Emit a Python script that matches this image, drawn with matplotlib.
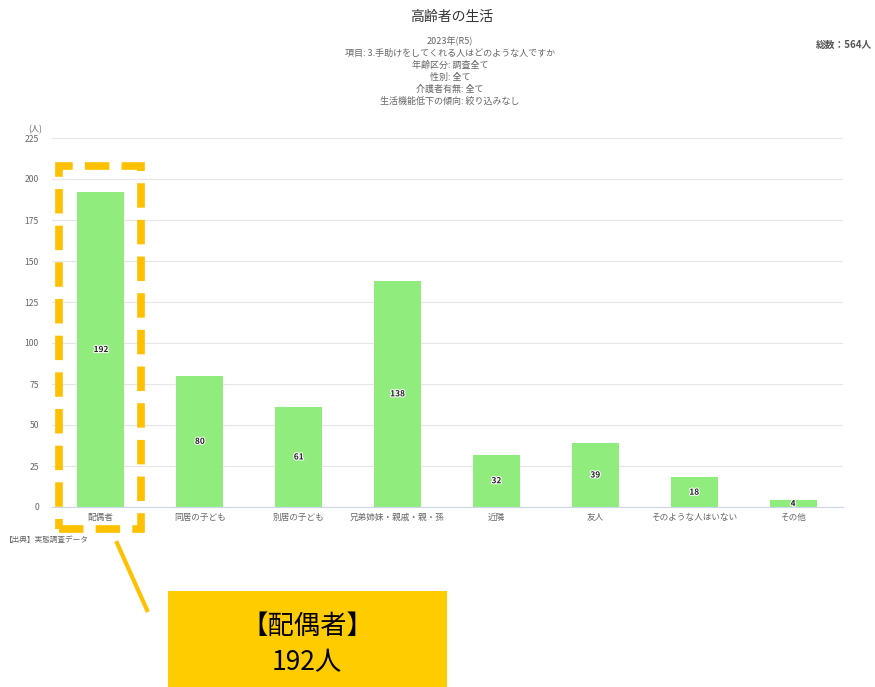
import matplotlib.pyplot as plt
from matplotlib.patches import Rectangle
from matplotlib.lines import Line2D
import matplotlib.patheffects as pe

plt.rcParams['font.family'] = ['Noto Sans CJK JP', 'DejaVu Sans']

categories = ['配偶者', '同居の子ども', '別居の子ども', '兄弟姉妹・親戚・親・孫',
              '近隣', '友人', 'そのような人はいない', 'その他']
counts = [192, 80, 61, 138, 32, 39, 18, 4]
yticks = [0, 25, 50, 75, 100, 125, 150, 175, 200, 225]
title = '高齢者の生活'
subtitle = ['2023年(R5)', '項目: 3.手助けをしてくれる人はどのような人ですか',
            '年齢区分: 調査全て', '性別: 全て', '介護者有無: 全て', '生活機能低下の傾向: 絞り込みなし']
total_text = '総数：564人'
source_text = '【出典】実態調査データ'
callout = ['【配偶者】', '192人']

W, H = 875, 687
fig = plt.figure(figsize=(W / 100, H / 100), dpi=100)

def fx(px):
    return px / W

def fy(py):
    return 1 - py / H

ax = fig.add_axes([fx(51.5), fy(507), fx(842.5) - fx(51.5), fy(138) - fy(507)])
x = range(len(categories))
bars = ax.bar(x, counts, width=0.475, color='#90ed7d', zorder=2)
ax.set_xlim(-0.5, len(categories) - 0.5)
ax.set_ylim(0, 225)
ax.set_yticks(yticks)
ax.set_xticks(list(x))
ax.set_xticklabels(categories, fontsize=6.2, color='#666666')
ax.tick_params(axis='y', labelsize=6.2, labelcolor='#666666', length=0, pad=9)
ax.tick_params(axis='x', length=0, pad=4)
ax.grid(axis='y', color='#e6e6e6', linewidth=0.8, zorder=0)
for s in ['top', 'right', 'left']:
    ax.spines[s].set_visible(False)
ax.spines['bottom'].set_color('#ccd6eb')
ax.spines['bottom'].set_zorder(3)

for bar, v in zip(bars, counts):
    ax.text(bar.get_x() + bar.get_width() / 2, max(v / 2, v - 2) if v < 8 else v / 2,
            str(v), ha='center', va='center', fontsize=6, fontweight='bold',
            color='#222222', zorder=4,
            path_effects=[pe.withStroke(linewidth=1.5, foreground='white')])

fig.text(fx(42), fy(130), '(人)', ha='right', va='center', fontsize=6, color='#666666')

fig.text(fx(452), fy(17), title, ha='center', va='center', fontsize=10, color='#333333')
for i, line in enumerate(subtitle):
    fig.text(fx(450), fy(41 + i * 12), line, ha='center', va='center', fontsize=6.5,
             color='#666666')
fig.text(fx(872), fy(45), total_text, ha='right', va='center', fontsize=7,
         fontweight='bold', color='#555555')
fig.text(fx(5), fy(540), source_text, ha='left', va='center', fontsize=5.5, color='#666666')

# callout: dashed box around the first bar
fig.add_artist(Rectangle((fx(59), fy(529)), fx(141) - fx(59), fy(166) - fy(529),
                         transform=fig.transFigure, fill=False, edgecolor='#ffc000',
                         linewidth=5.5, linestyle=(0, (3.2, 1.6))))
fig.add_artist(Line2D([fx(117), fx(147)], [fy(543), fy(610)], transform=fig.transFigure,
                      color='#ffc000', linewidth=3))
fig.add_artist(Rectangle((fx(168), fy(687)), fx(447) - fx(168), fy(591) - fy(687),
                         transform=fig.transFigure, facecolor='#ffcc00', edgecolor='none'))
fig.text(fx(307), fy(626), callout[0], ha='center', va='center', fontsize=19, color='black')
fig.text(fx(307), fy(663), callout[1], ha='center', va='center', fontsize=19, color='black')

fig.savefig('out.png', dpi=100)
